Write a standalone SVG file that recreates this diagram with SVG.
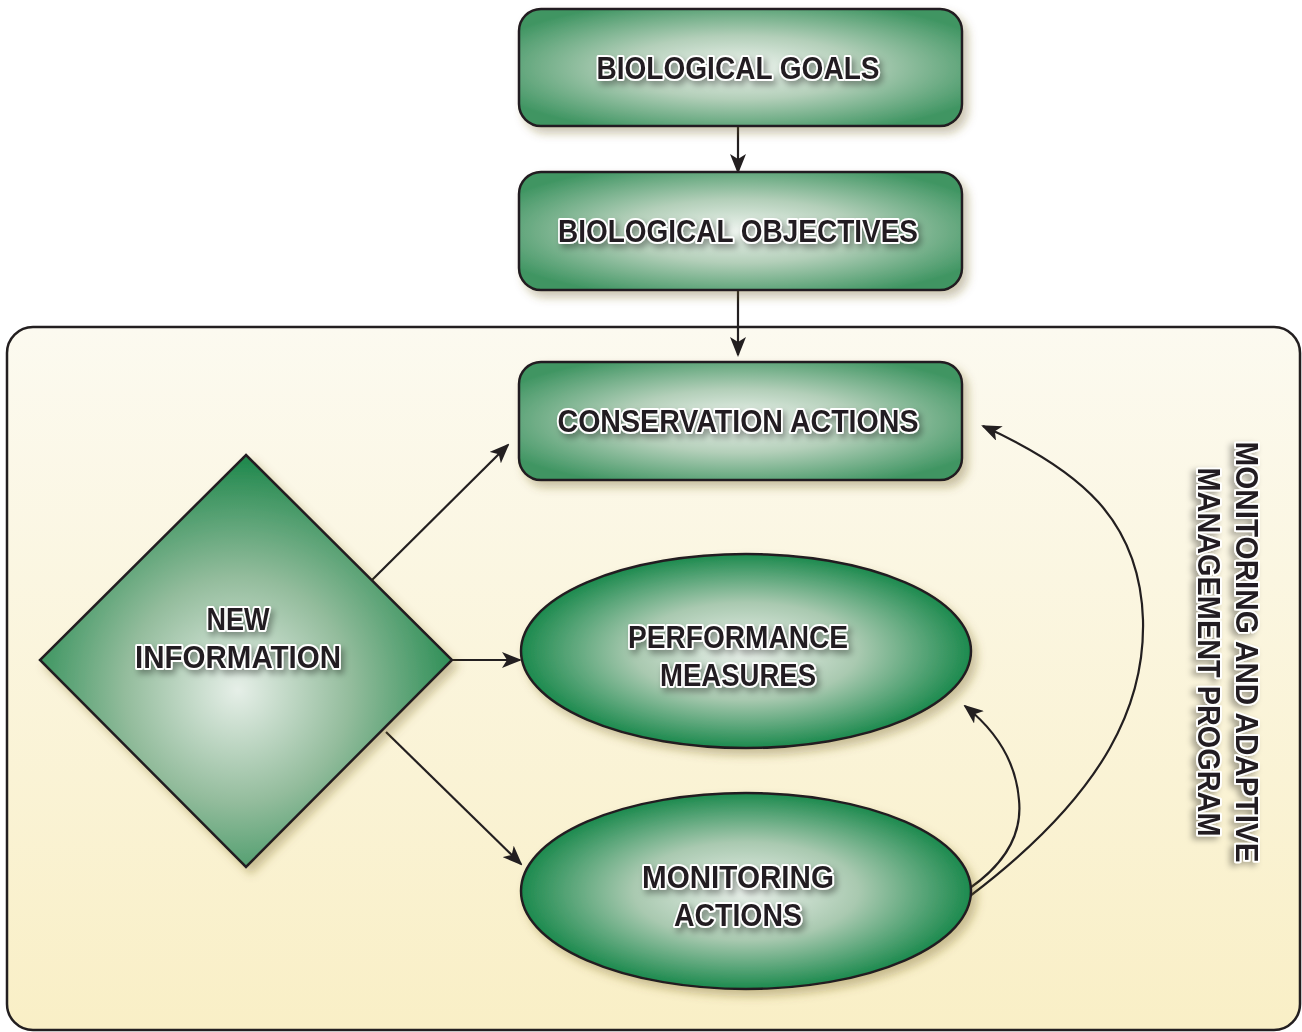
<svg xmlns="http://www.w3.org/2000/svg" width="1302" height="1032" viewBox="0 0 1302 1032">
<defs>
<style>
.lbl{font-family:"Liberation Sans",Arial,sans-serif;font-weight:700;font-size:32px;fill:#231f20;stroke:#ffffff;stroke-width:4px;paint-order:stroke;stroke-linejoin:round;text-anchor:middle;filter:url(#tsh)}
.node{stroke:#231f20;stroke-width:2.5;filter:url(#sh)}
.conn{fill:none;stroke:#231f20;stroke-width:2.2}
</style>
<linearGradient id="panel" x1="0" y1="0" x2="0" y2="1">
<stop offset="0" stop-color="#fcfaf0"/>
<stop offset="1" stop-color="#f9efc6"/>
</linearGradient>
<radialGradient id="rg" cx="0.5" cy="0.5" r="0.6">
<stop offset="0" stop-color="#eef4ef"/>
<stop offset="0.45" stop-color="#b3cfb9"/>
<stop offset="1" stop-color="#3f9562"/>
</radialGradient>
<radialGradient id="eg" cx="0.5" cy="0.5" r="0.5">
<stop offset="0" stop-color="#ebf2ec"/>
<stop offset="0.5" stop-color="#a9c9b0"/>
<stop offset="1" stop-color="#1c8a4e"/>
</radialGradient>
<radialGradient id="dg" cx="0.48" cy="0.57" r="0.55">
<stop offset="0" stop-color="#e6efe8"/>
<stop offset="0.5" stop-color="#93bc9c"/>
<stop offset="1" stop-color="#248a50"/>
</radialGradient>
<filter id="sh" x="-10%" y="-10%" width="125%" height="130%">
<feDropShadow dx="5" dy="6" stdDeviation="5" flood-color="#6b5a20" flood-opacity="0.35"/>
</filter>
<filter id="tsh" x="-10%" y="-30%" width="125%" height="170%">
<feDropShadow dx="3" dy="4" stdDeviation="3" flood-color="#000" flood-opacity="0.35"/>
</filter>
<marker id="ah" viewBox="0 0 20 16" refX="18" refY="8" markerWidth="20" markerHeight="16" markerUnits="userSpaceOnUse" orient="auto">
<path d="M0,0 L20,8 L0,16 L5,8 Z" fill="#231f20"/>
</marker>
</defs>

<g id="panel-bg">
<rect x="7" y="327" width="1293" height="703" rx="26" fill="url(#panel)" stroke="#231f20" stroke-width="2.5"/>
</g>

<g id="connectors">
<line class="conn" x1="738" y1="126" x2="738" y2="172" marker-end="url(#ah)"/>
<line class="conn" x1="738" y1="290" x2="738" y2="355" marker-end="url(#ah)"/>
<line class="conn" x1="372" y1="580" x2="508" y2="445" marker-end="url(#ah)"/>
<line class="conn" x1="452" y1="660" x2="520" y2="660" marker-end="url(#ah)"/>
<line class="conn" x1="386" y1="732" x2="521" y2="864" marker-end="url(#ah)"/>
<path class="conn" d="M970,896 C1110,790 1145,700 1143,620 C1140,520 1080,470 983,426" marker-end="url(#ah)"/>
<path class="conn" d="M970,888 C1010,860 1022,830 1019,800 C1016,760 995,730 965,706" marker-end="url(#ah)"/>
</g>

<g id="goals">
<rect class="node" x="519" y="9" width="443" height="117" rx="22" fill="url(#rg)"/>
<text class="lbl" x="738" y="79" textLength="283" lengthAdjust="spacingAndGlyphs">BIOLOGICAL GOALS</text>
</g>

<g id="objectives">
<rect class="node" x="519" y="172" width="443" height="118" rx="22" fill="url(#rg)"/>
<text class="lbl" x="738" y="242" textLength="360" lengthAdjust="spacingAndGlyphs">BIOLOGICAL OBJECTIVES</text>
</g>

<g id="conservation">
<rect class="node" x="519" y="362" width="443" height="118" rx="22" fill="url(#rg)"/>
<text class="lbl" x="738" y="432" textLength="361" lengthAdjust="spacingAndGlyphs">CONSERVATION ACTIONS</text>
</g>

<g id="new-information">
<polygon class="node" points="246,455 452,660 246,867 40,660" fill="url(#dg)"/>
<text class="lbl" x="238" y="630" textLength="63" lengthAdjust="spacingAndGlyphs">NEW</text>
<text class="lbl" x="238" y="668" textLength="206" lengthAdjust="spacingAndGlyphs">INFORMATION</text>
</g>

<g id="performance">
<ellipse class="node" cx="746" cy="651" rx="225" ry="97" fill="url(#eg)"/>
<text class="lbl" x="738" y="648" textLength="220" lengthAdjust="spacingAndGlyphs">PERFORMANCE</text>
<text class="lbl" x="738" y="686" textLength="156" lengthAdjust="spacingAndGlyphs">MEASURES</text>
</g>

<g id="monitoring">
<ellipse class="node" cx="746" cy="891" rx="225" ry="98" fill="url(#eg)"/>
<text class="lbl" x="738" y="888" textLength="192" lengthAdjust="spacingAndGlyphs">MONITORING</text>
<text class="lbl" x="738" y="926" textLength="128" lengthAdjust="spacingAndGlyphs">ACTIONS</text>
</g>

<g id="program-label">
<text class="lbl" transform="translate(1236,652) rotate(90)" x="0" y="0" textLength="421" lengthAdjust="spacingAndGlyphs">MONITORING AND ADAPTIVE</text>
<text class="lbl" transform="translate(1198,652) rotate(90)" x="0" y="0" textLength="369" lengthAdjust="spacingAndGlyphs">MANAGEMENT PROGRAM</text>
</g>
</svg>
